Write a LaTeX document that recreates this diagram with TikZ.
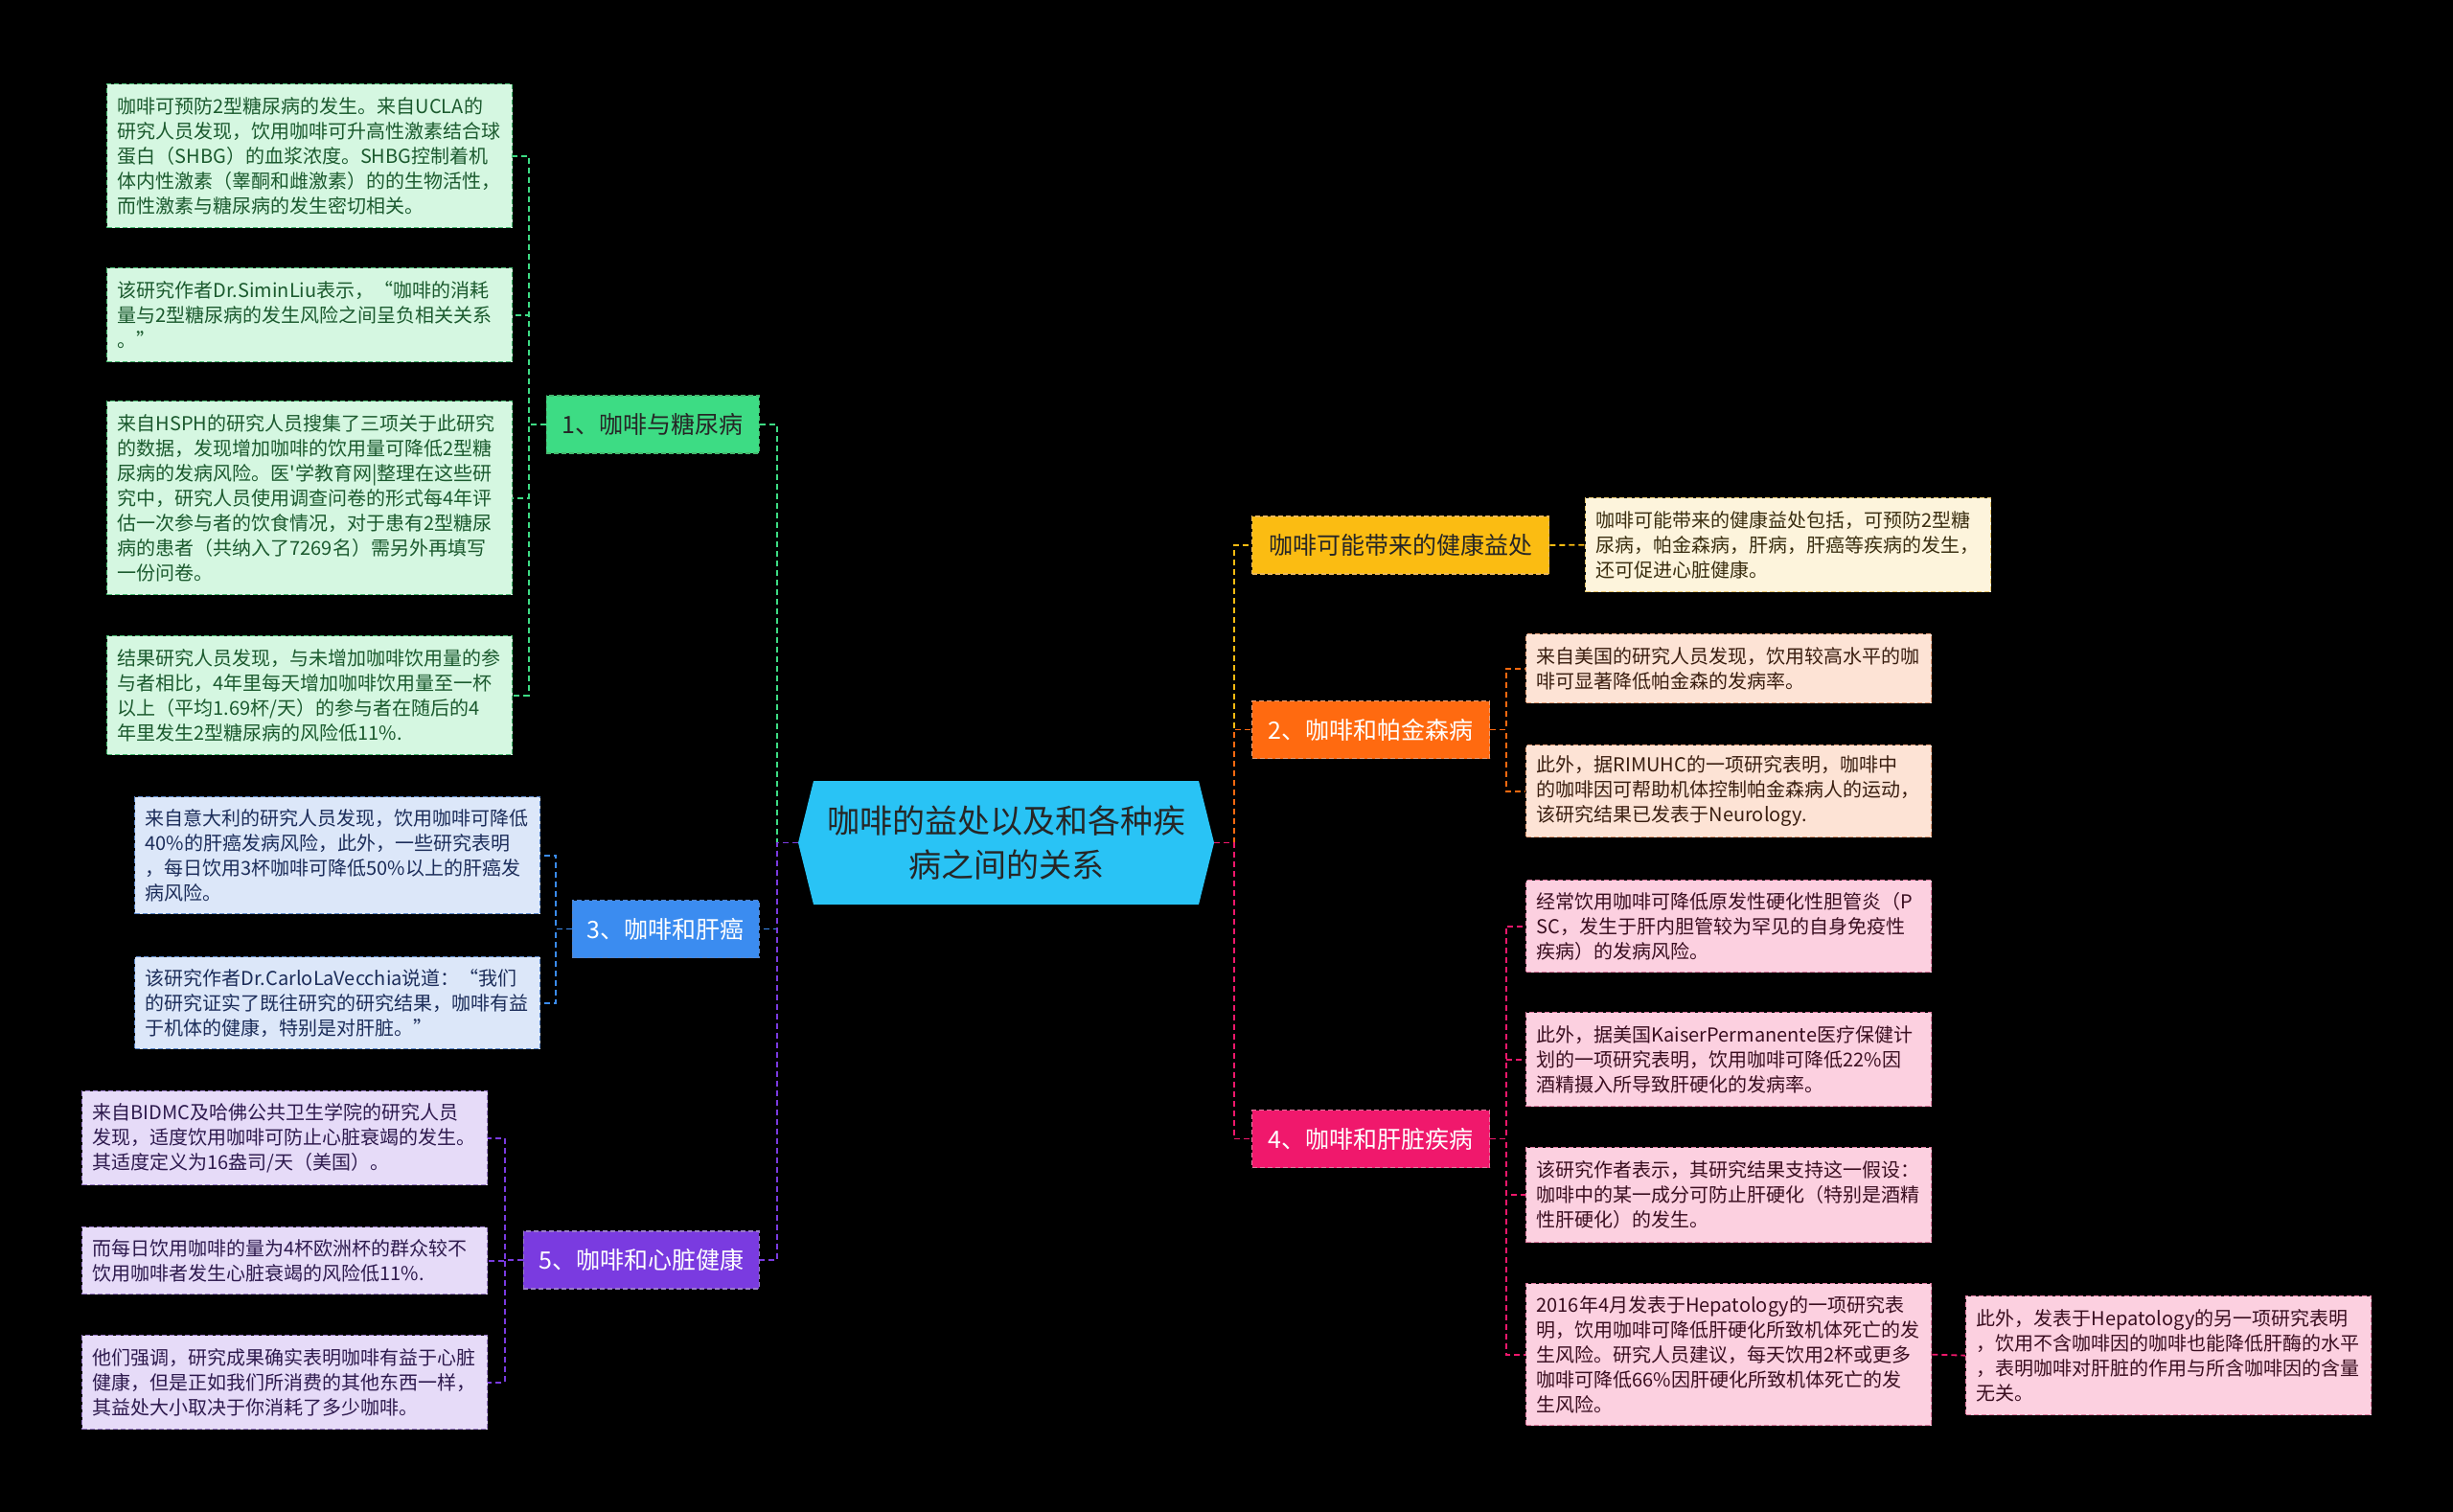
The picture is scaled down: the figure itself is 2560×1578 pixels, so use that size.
\documentclass[tikz,border=0pt]{standalone}
\usepackage{fontspec}
\setmainfont{Noto Sans CJK SC}
\newfontfamily\cjk{Noto Sans CJK SC}
\definecolor{cenC}{HTML}{29C3F5}
\definecolor{gC}{HTML}{3DDC84}\definecolor{gF}{HTML}{D5F7E1}\definecolor{gD}{HTML}{45B86E}\definecolor{gT}{HTML}{1B5A2E}
\definecolor{bC}{HTML}{3B8CF0}\definecolor{bF}{HTML}{DCE7F9}\definecolor{bD}{HTML}{5A86C8}\definecolor{bT}{HTML}{1C2D5A}
\definecolor{pC}{HTML}{7A3BE0}\definecolor{pF}{HTML}{E6DBF8}\definecolor{pD}{HTML}{9A7CC8}\definecolor{pT}{HTML}{2E1A4E}
\definecolor{yC}{HTML}{FBBC12}\definecolor{yF}{HTML}{FDF4DC}\definecolor{yD}{HTML}{E8C870}\definecolor{yT}{HTML}{3A2E10}
\definecolor{oC}{HTML}{FF6A10}\definecolor{oF}{HTML}{FDE3D5}\definecolor{oD}{HTML}{E8A07A}\definecolor{oT}{HTML}{3A1E10}
\definecolor{kC}{HTML}{F0186C}\definecolor{kF}{HTML}{FCD0E0}\definecolor{kD}{HTML}{E07AA0}\definecolor{kT}{HTML}{3A0E20}
\begin{document}
\begin{tikzpicture}[x=1pt,y=-1pt,
  leafbase/.style={rectangle, anchor=north west, line width=1.3pt, dash pattern=on 5pt off 3pt,
    text width=401pt, inner xsep=11pt, inner ysep=4pt, align=left,
    font=\cjk\fontsize{20}{26}\selectfont},
  leafg/.style={leafbase, draw=gD, fill=gF, text=gT},
  leafb/.style={leafbase, draw=bD, fill=bF, text=bT},
  leafp/.style={leafbase, draw=pD, fill=pF, text=pT},
  leafy/.style={leafbase, draw=yD, fill=yF, text=yT},
  leafo/.style={leafbase, draw=oD, fill=oF, text=oT},
  leafk/.style={leafbase, draw=kD, fill=kF, text=kT},
  branch/.style={rectangle, minimum height=60pt, inner xsep=8pt, line width=1.3pt,
    dash pattern=on 5pt off 3pt, font=\cjk\fontsize{25}{30}\selectfont},
  conn/.style={line width=1.8pt, dash pattern=on 6pt off 4pt},
]
\useasboundingbox (0,0) rectangle (2560,1578);
\fill[black] (0,0) rectangle (2560,1578);

% central topic
\fill[cenC] (849,815) -- (1251,815) -- (1267,879.5) -- (1251,944) -- (849,944) -- (833,879.5) -- cycle;
\node[minimum width=434pt, minimum height=129pt, align=center, text=black!85,
  font=\cjk\fontsize{34}{46}\selectfont] (c) at (1050,879.5) {咖啡的益处以及和各种疾\\病之间的关系};

\coordinate (jl) at (811,879.5);
\coordinate (jr) at (1288,879.5);

% branches
\node[branch, anchor=east, fill=gC, draw=gD, text=black!85, minimum width=222pt] (bg) at (793,443) {1、咖啡与糖尿病};
\node[branch, anchor=east, fill=bC, draw=bD, text=white, minimum width=195pt] (bb) at (793,969.5) {3、咖啡和肝癌};
\node[branch, anchor=east, fill=pC, draw=pD, text=white, minimum width=246pt] (bp) at (793,1315) {5、咖啡和心脏健康};
\node[branch, anchor=west, fill=yC, draw=yD!80!orange, text=black!85, minimum width=310pt] (by) at (1306,569) {咖啡可能带来的健康益处};
\node[branch, anchor=west, fill=oC, draw=oD, text=white, minimum width=248pt] (bo) at (1306,761.5) {2、咖啡和帕金森病};
\node[branch, anchor=west, fill=kC, draw=kD, text=white, minimum width=248pt] (bk) at (1306,1188.5) {4、咖啡和肝脏疾病};

% leaves: diabetes
\node[leafg, minimum height=150pt] (g1) at (111,87) {咖啡可预防2型糖尿病的发生。来自UCLA的\\研究人员发现，饮用咖啡可升高性激素结合球\\蛋白（SHBG）的血浆浓度。SHBG控制着机\\体内性激素（睾酮和雌激素）的的生物活性，\\而性激素与糖尿病的发生密切相关。};
\node[leafg, minimum height=98pt] (g2) at (111,279) {该研究作者Dr.SiminLiu表示，“咖啡的消耗\\量与2型糖尿病的发生风险之间呈负相关关系\\。”};
\node[leafg, minimum height=202pt] (g3) at (111,418) {来自HSPH的研究人员搜集了三项关于此研究\\的数据，发现增加咖啡的饮用量可降低2型糖\\尿病的发病风险。医'学教育网|整理在这些研\\究中，研究人员使用调查问卷的形式每4年评\\估一次参与者的饮食情况，对于患有2型糖尿\\病的患者（共纳入了7269名）需另外再填写\\一份问卷。};
\node[leafg, minimum height=124pt] (g4) at (111,663) {结果研究人员发现，与未增加咖啡饮用量的参\\与者相比，4年里每天增加咖啡饮用量至一杯\\以上（平均1.69杯/天）的参与者在随后的4\\年里发生2型糖尿病的风险低11\%.};

% leaves: liver cancer
\node[leafb, minimum height=122pt] (b1) at (140,831) {来自意大利的研究人员发现，饮用咖啡可降低\\40\%的肝癌发病风险，此外，一些研究表明\\，每日饮用3杯咖啡可降低50\%以上的肝癌发\\病风险。};
\node[leafb, minimum height=96pt] (b2) at (140,998) {该研究作者Dr.CarloLaVecchia说道：“我们\\的研究证实了既往研究的研究结果，咖啡有益\\于机体的健康，特别是对肝脏。”};

% leaves: heart
\node[leafp, minimum height=98pt] (p1) at (85,1138) {来自BIDMC及哈佛公共卫生学院的研究人员\\发现，适度饮用咖啡可防止心脏衰竭的发生。\\其适度定义为16盎司/天（美国）。};
\node[leafp, minimum height=70pt] (p2) at (85,1280) {而每日饮用咖啡的量为4杯欧洲杯的群众较不\\饮用咖啡者发生心脏衰竭的风险低11\%.};
\node[leafp, minimum height=98pt] (p3) at (85,1393) {他们强调，研究成果确实表明咖啡有益于心脏\\健康，但是正如我们所消费的其他东西一样，\\其益处大小取决于你消耗了多少咖啡。};

% leaf: benefits
\node[leafy, minimum height=98pt] (y1) at (1654,519) {咖啡可能带来的健康益处包括，可预防2型糖\\尿病，帕金森病，肝病，肝癌等疾病的发生，\\还可促进心脏健康。};

% leaves: parkinson
\node[leafo, minimum height=72pt] (o1) at (1592,661) {来自美国的研究人员发现，饮用较高水平的咖\\啡可显著降低帕金森的发病率。};
\node[leafo, minimum height=96pt] (o2) at (1592,777) {此外，据RIMUHC的一项研究表明，咖啡中\\的咖啡因可帮助机体控制帕金森病人的运动，\\该研究结果已发表于Neurology.};

% leaves: liver
\node[leafk, minimum height=96pt] (k1) at (1592,918) {经常饮用咖啡可降低原发性硬化性胆管炎（P\\SC，发生于肝内胆管较为罕见的自身免疫性\\疾病）的发病风险。};
\node[leafk, minimum height=98pt] (k2) at (1592,1056) {此外，据美国KaiserPermanente医疗保健计\\划的一项研究表明，饮用咖啡可降低22\%因\\酒精摄入所导致肝硬化的发病率。};
\node[leafk, minimum height=99pt] (k3) at (1592,1197) {该研究作者表示，其研究结果支持这一假设：\\咖啡中的某一成分可防止肝硬化（特别是酒精\\性肝硬化）的发生。};
\node[leafk, minimum height=148pt] (k4) at (1592,1339) {2016年4月发表于Hepatology的一项研究表\\明，饮用咖啡可降低肝硬化所致机体死亡的发\\生风险。研究人员建议，每天饮用2杯或更多\\咖啡可降低66\%因肝硬化所致机体死亡的发\\生风险。};
\node[leafk, minimum height=124pt] (k5) at (2051,1352) {此外，发表于Hepatology的另一项研究表明\\，饮用不含咖啡因的咖啡也能降低肝酶的水平\\，表明咖啡对肝脏的作用与所含咖啡因的含量\\无关。};

% junction coordinates
\coordinate (jg) at (552,443);
\coordinate (jb) at (580,969.5);
\coordinate (jp) at (527,1315);
\coordinate (jo) at (1572,761.5);
\coordinate (jk) at (1572,1188.5);

% central connectors
\draw[conn, gC] (c.west) -- (jl) |- (bg.east);
\draw[conn, bC] (c.west) -- (jl) |- (bb.east);
\draw[conn, pC] (c.west) -- (jl) |- (bp.east);
\draw[conn, yC] (c.east) -- (jr) |- (by.west);
\draw[conn, oC] (c.east) -- (jr) |- (bo.west);
\draw[conn, kC] (c.east) -- (jr) |- (bk.west);

% branch connectors
\foreach \l in {g1,g2,g3,g4} \draw[conn, gC] (bg.west) -- (jg) |- (\l.east);
\foreach \l in {b1,b2} \draw[conn, bC] (bb.west) -- (jb) |- (\l.east);
\foreach \l in {p1,p2,p3} \draw[conn, pC] (bp.west) -- (jp) |- (\l.east);
\draw[conn, yC] (by.east) -- (y1.west);
\foreach \l in {o1,o2} \draw[conn, oC] (bo.east) -- (jo) |- (\l.west);
\foreach \l in {k1,k2,k3,k4} \draw[conn, kC] (bk.east) -- (jk) |- (\l.west);
\draw[conn, kC] (k4.east) -- (k5.west);
\end{tikzpicture}
\end{document}
